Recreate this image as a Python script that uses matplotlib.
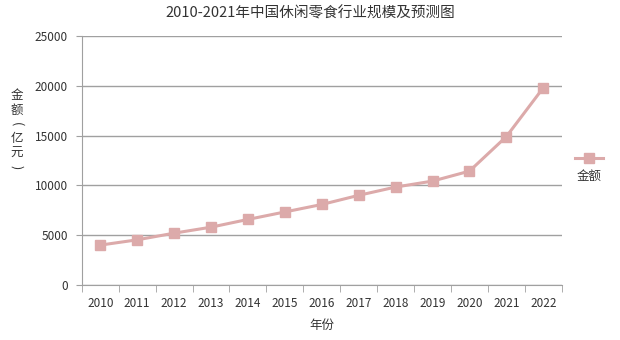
import matplotlib.pyplot as plt
from matplotlib.lines import Line2D
import numpy as np

plt.rcParams['font.family'] = ['Noto Sans CJK SC', 'DejaVu Sans']

years = ['2010', '2011', '2012', '2013', '2014', '2015', '2016',
         '2017', '2018', '2019', '2020', '2021', '2022']
amount = [4000, 4530, 5200, 5800, 6580, 7330, 8080,
          9000, 9830, 10430, 11430, 14900, 19800]

line_color = '#DCAAAA'
axis_color = '#A0A0A0'
text_color = '#333333'

fig = plt.figure(figsize=(6.2, 3.4), dpi=100)
ax = fig.add_axes([0.132, 0.162, 0.774, 0.732])

x = np.arange(len(years))
ax.plot(x, amount, color=line_color, linewidth=2.2, marker='s',
        markersize=7, markeredgecolor=line_color)

ax.set_xlim(-0.5, len(years) - 0.5)
ax.set_ylim(0, 25000)
ax.set_yticks(range(0, 25001, 5000))
ax.yaxis.grid(True, color=axis_color, linewidth=1)
ax.set_axisbelow(True)

# 类别标签放在中间，刻度线放在分界处
ax.set_xticks(x)
ax.set_xticklabels(years)
ax.set_xticks(np.arange(-0.5, len(years)), minor=True)
ax.tick_params(axis='x', which='major', length=0, pad=9)
ax.tick_params(axis='x', which='minor', length=5, color=axis_color)
ax.tick_params(axis='y', length=4, color=axis_color, pad=6)
ax.tick_params(labelsize=8.5, labelcolor=text_color)

for s in ['top', 'right']:
    ax.spines[s].set_visible(False)
for s in ['left', 'bottom']:
    ax.spines[s].set_color(axis_color)

fig.text(0.5, 0.962, '2010-2021年中国休闲零食行业规模及预测图',
         fontsize=10.5, color=text_color, ha='center', va='center')
ax.set_xlabel('年份', fontsize=9, color=text_color, labelpad=6)

# 竖排的纵轴标题，括号旋转成竖排样式
ylab = [('金', 0), ('额', 0), ('(', -90), ('亿', 0), ('元', 0), (')', -90)]
for i, (ch, rot) in enumerate(ylab):
    fig.text(0.027, 1 - (96 + i * 14.3) / 340, ch, fontsize=9,
             color=text_color, ha='center', va='center', rotation=rot,
             rotation_mode='anchor')

# 图例
fig.add_artist(Line2D([0.928, 0.972], [0.535, 0.535], color=line_color,
                      linewidth=2.2))
fig.add_artist(Line2D([0.95], [0.535], color=line_color, marker='s',
                      markersize=7, linestyle='none'))
fig.text(0.95, 0.48, '金额', fontsize=9, color=text_color,
         ha='center', va='center')

fig.savefig('out.png')
